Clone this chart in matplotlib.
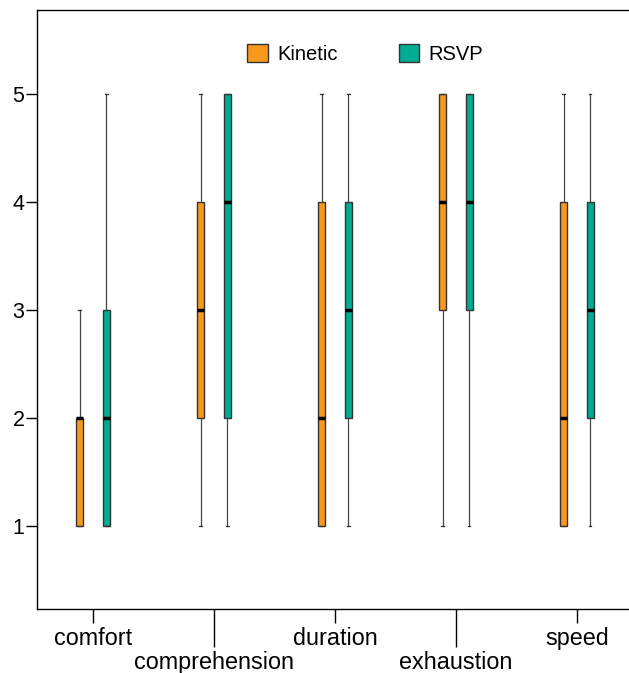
import matplotlib
matplotlib.use("Agg")
import matplotlib.pyplot as plt
from matplotlib.patches import Patch

plt.rcParams['font.family'] = ['Liberation Sans', 'DejaVu Sans']

categories = ['comfort', 'comprehension', 'duration', 'exhaustion', 'speed']
groups = ['Kinetic', 'RSVP']
colors = {'Kinetic': '#F8991D', 'RSVP': '#00AC93'}

# five-number summaries
kinetic_whislo = [1, 1, 1, 1, 1]
kinetic_q1 = [1, 2, 1, 3, 1]
kinetic_med = [2, 3, 2, 4, 2]
kinetic_q3 = [2, 4, 4, 5, 4]
kinetic_whishi = [3, 5, 5, 5, 5]

rsvp_whislo = [1, 1, 1, 1, 1]
rsvp_q1 = [1, 2, 2, 3, 2]
rsvp_med = [2, 4, 3, 4, 3]
rsvp_q3 = [3, 5, 4, 5, 4]
rsvp_whishi = [5, 5, 5, 5, 5]

summary = {
    'Kinetic': (kinetic_whislo, kinetic_q1, kinetic_med, kinetic_q3, kinetic_whishi),
    'RSVP': (rsvp_whislo, rsvp_q1, rsvp_med, rsvp_q3, rsvp_whishi),
}
offsets = {'Kinetic': -0.11, 'RSVP': 0.11}

fig = plt.figure(figsize=(6.29, 6.73), dpi=100)
ax = fig.add_axes([37 / 629, 1 - 609 / 673, 595 / 629, 599 / 673])

for g in groups:
    lo, q1, med, q3, hi = summary[g]
    stats = []
    for i in range(len(categories)):
        stats.append({'whislo': lo[i], 'q1': q1[i], 'med': med[i],
                      'q3': q3[i], 'whishi': hi[i], 'fliers': []})
    pos = [i + 1 + offsets[g] for i in range(len(categories))]
    ax.bxp(stats, positions=pos, widths=0.058, patch_artist=True,
           showfliers=False, capwidths=0.02,
           boxprops=dict(facecolor=colors[g], edgecolor='#333333', linewidth=1.0),
           medianprops=dict(color='black', linewidth=2.5),
           whiskerprops=dict(color='#444444', linewidth=0.9),
           capprops=dict(color='#333333', linewidth=0.9))

ax.set_xlim(0.537, 5.455)
ax.set_ylim(0.23, 5.78)

ax.spines['right'].set_visible(False)
for s in ['left', 'top', 'bottom']:
    ax.spines[s].set_linewidth(1.0)

ax.set_yticks([1, 2, 3, 4, 5])
ax.tick_params(axis='y', length=8, width=1, pad=1, labelsize=15.5)

# staggered category labels: odd ones on major ticks, even ones on long minor ticks
ax.set_xticks([1, 3, 5])
ax.set_xticklabels([categories[0], categories[2], categories[4]])
ax.set_xticks([2, 4], minor=True)
ax.set_xticklabels([categories[1], categories[3]], minor=True)
ax.tick_params(axis='x', which='major', length=10, width=1, pad=3, labelsize=16.8)
ax.tick_params(axis='x', which='minor', length=27, width=1, pad=3, labelsize=16.8)

handles = [Patch(facecolor=colors[g], edgecolor='#333333', label=g) for g in groups]
ax.legend(handles=handles, loc='center', bbox_to_anchor=(0.552, 0.927), ncol=2,
          frameon=False, fontsize=14.5, handlelength=1.0, handleheight=1.0,
          handletextpad=0.5, columnspacing=3.0)

fig.savefig('out.png', dpi=100)
